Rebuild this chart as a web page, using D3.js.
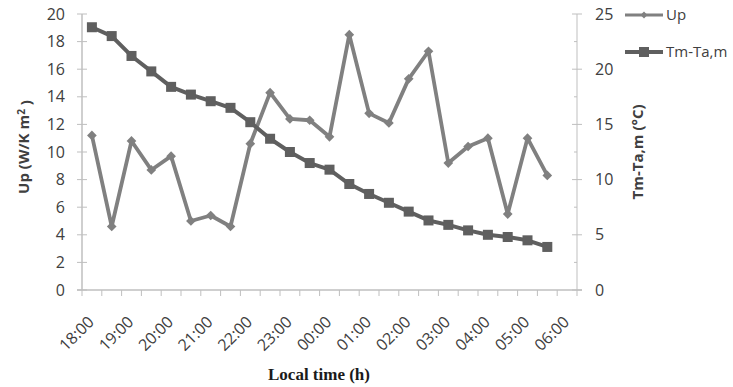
<!DOCTYPE html>
<html>
<head>
<meta charset="utf-8">
<script src="https://cdn.jsdelivr.net/npm/d3@7"></script>
<style>
  html, body { margin: 0; padding: 0; background: #fff; }
  svg { display: block; }
</style>
</head>
<body>
<svg id="chart" width="733" height="387"></svg>
<script>
// Half-hourly categories from 18:00 to 06:00
const categories = ["18:00","18:30","19:00","19:30","20:00","20:30","21:00","21:30",
  "22:00","22:30","23:00","23:30","00:00","00:30","01:00","01:30","02:00","02:30",
  "03:00","03:30","04:00","04:30","05:00","05:30","06:00"];

// Overall heat loss coefficient Up (W/K m²), left axis
const upValues = [11.2, 4.6, 10.8, 8.7, 9.7, 5.0, 5.4, 4.6, 10.6, 14.3, 12.4, 12.3,
  11.1, 18.5, 12.8, 12.1, 15.3, 17.3, 9.2, 10.4, 11.0, 5.5, 11.0, 8.3];

// Mean temperature difference Tm-Ta,m (°C), right axis
const tmValues = [23.8, 23.0, 21.2, 19.8, 18.4, 17.7, 17.1, 16.5, 15.2, 13.7, 12.5, 11.5,
  10.9, 9.6, 8.7, 7.9, 7.1, 6.3, 5.9, 5.4, 5.0, 4.8, 4.5, 3.9];

const leftTicks = [0, 2, 4, 6, 8, 10, 12, 14, 16, 18, 20];
const rightTicks = [0, 5, 10, 15, 20, 25];
const rightMinorTicks = [2.5, 7.5, 12.5, 17.5, 22.5];

const svg = d3.select("#chart");
const axisColor = "#bfbfbf";
const textColor = "#404040";
const upColor = "#808080";
const tmColor = "#5f5f5f";
const sansFont = "'Open Sans', 'Liberation Sans', sans-serif";

const plot = { left: 82, right: 577, top: 14, bottom: 290 };

const x = d3.scaleBand().domain(categories).range([plot.left, plot.right]).padding(0);
const yL = d3.scaleLinear().domain([0, 20]).range([plot.bottom, plot.top]);
const yR = d3.scaleLinear().domain([0, 25]).range([plot.bottom, plot.top]);

// Left axis
const gL = svg.append("g");
gL.append("line").attr("x1", plot.left).attr("x2", plot.left).attr("y1", plot.top).attr("y2", plot.bottom)
  .attr("stroke", axisColor).attr("stroke-width", 1.5);
gL.selectAll("line.tick").data(leftTicks).join("line").attr("class", "tick")
  .attr("x1", plot.left - 5).attr("x2", plot.left + 5)
  .attr("y1", d => yL(d)).attr("y2", d => yL(d))
  .attr("stroke", axisColor).attr("stroke-width", 1);
gL.selectAll("text").data(leftTicks).join("text")
  .attr("x", 65).attr("y", d => yL(d)).attr("dy", "0.35em")
  .attr("text-anchor", "end").attr("font-family", sansFont).attr("font-size", 16)
  .attr("fill", textColor).text(d => d);

// Right axis
const gR = svg.append("g");
gR.append("line").attr("x1", plot.right).attr("x2", plot.right).attr("y1", plot.top).attr("y2", plot.bottom)
  .attr("stroke", axisColor).attr("stroke-width", 1);
gR.selectAll("line.major").data(rightTicks).join("line").attr("class", "major")
  .attr("x1", plot.right - 5).attr("x2", plot.right + 5)
  .attr("y1", d => yR(d)).attr("y2", d => yR(d))
  .attr("stroke", axisColor).attr("stroke-width", 1);
gR.selectAll("line.minor").data(rightMinorTicks).join("line").attr("class", "minor")
  .attr("x1", plot.right - 3).attr("x2", plot.right)
  .attr("y1", d => yR(d)).attr("y2", d => yR(d))
  .attr("stroke", axisColor).attr("stroke-width", 1);
gR.selectAll("text").data(rightTicks).join("text")
  .attr("x", 595).attr("y", d => yR(d)).attr("dy", "0.35em")
  .attr("text-anchor", "start").attr("font-family", sansFont).attr("font-size", 16)
  .attr("fill", textColor).text(d => d);

// Category axis: ticks at band edges, labels on every hour
const gX = svg.append("g");
gX.append("line").attr("x1", plot.left - 5).attr("x2", plot.right + 5).attr("y1", plot.bottom).attr("y2", plot.bottom)
  .attr("stroke", axisColor).attr("stroke-width", 1.5);
const bounds = categories.map(c => x(c)).concat([x(categories[categories.length - 1]) + x.bandwidth()]);
gX.selectAll("line.tick").data(bounds).join("line").attr("class", "tick")
  .attr("x1", d => d).attr("x2", d => d).attr("y1", plot.bottom).attr("y2", plot.bottom + 6)
  .attr("stroke", axisColor).attr("stroke-width", 1);
gX.selectAll("text").data(categories.filter((c, i) => i % 2 === 0)).join("text")
  .attr("transform", d => `translate(${x(d) + x.bandwidth() / 2 + 3},${plot.bottom + 33}) rotate(-45)`)
  .attr("text-anchor", "end")
  .attr("font-family", sansFont).attr("font-size", 16).attr("fill", textColor).text(d => d);

// Axis titles
svg.append("text")
  .attr("transform", `translate(29,147) rotate(-90)`)
  .attr("text-anchor", "middle").attr("font-family", sansFont).attr("font-size", 15)
  .attr("font-weight", "bold").attr("fill", textColor)
  .call(t => {
    t.append("tspan").text("Up (W/K m");
    t.append("tspan").attr("dy", "-0.4em").attr("font-size", 10).text("2");
    t.append("tspan").attr("dy", "0.4em").text(" )");
  });

svg.append("text")
  .attr("transform", `translate(643,152) rotate(-90)`)
  .attr("text-anchor", "middle").attr("font-family", sansFont).attr("font-size", 15)
  .attr("font-weight", "bold").attr("fill", textColor).text("Tm-Ta,m (°C)");

svg.append("text")
  .attr("x", 319).attr("y", 380).attr("text-anchor", "middle")
  .attr("font-family", "'Liberation Serif', 'DejaVu Serif', serif").attr("font-size", 17)
  .attr("font-weight", "bold").attr("fill", "#1a1a1a").text("Local time (h)");

// Series
const cx = (d, i) => x(categories[i]) + x.bandwidth() / 2;

const upLine = d3.line().x(cx).y(d => yL(d));
svg.append("path").datum(upValues).attr("d", upLine)
  .attr("fill", "none").attr("stroke", upColor).attr("stroke-width", 3.8)
  .attr("stroke-linejoin", "round");
svg.selectAll("path.diamond").data(upValues).join("path").attr("class", "diamond")
  .attr("d", d3.symbol(d3.symbolDiamond2, 60))
  .attr("transform", (d, i) => `translate(${cx(d, i)},${yL(d)})`)
  .attr("fill", upColor);

const tmLine = d3.line().x(cx).y(d => yR(d));
svg.append("path").datum(tmValues).attr("d", tmLine)
  .attr("fill", "none").attr("stroke", tmColor).attr("stroke-width", 4)
  .attr("stroke-linejoin", "round");
svg.selectAll("rect.square").data(tmValues).join("rect").attr("class", "square")
  .attr("x", (d, i) => cx(d, i) - 5).attr("y", d => yR(d) - 5)
  .attr("width", 10).attr("height", 10).attr("fill", tmColor);

// Legend
const legend = [
  { name: "Up", color: upColor, y: 15, marker: "diamond" },
  { name: "Tm-Ta,m", color: tmColor, y: 52, marker: "square" }
];
const lg = svg.append("g");
legend.forEach(l => {
  lg.append("line").attr("x1", 625).attr("x2", 663).attr("y1", l.y).attr("y2", l.y)
    .attr("stroke", l.color).attr("stroke-width", l.marker === "square" ? 4 : 3);
  if (l.marker === "square") {
    lg.append("rect").attr("x", 639).attr("y", l.y - 5).attr("width", 10).attr("height", 10)
      .attr("fill", l.color);
  } else {
    lg.append("path").attr("d", d3.symbol(d3.symbolDiamond2, 30))
      .attr("transform", `translate(644,${l.y})`).attr("fill", l.color);
  }
  lg.append("text").attr("x", 666).attr("y", l.y).attr("dy", "0.35em")
    .attr("font-family", sansFont).attr("font-size", 15).attr("fill", textColor).text(l.name);
});
</script>
</body>
</html>
